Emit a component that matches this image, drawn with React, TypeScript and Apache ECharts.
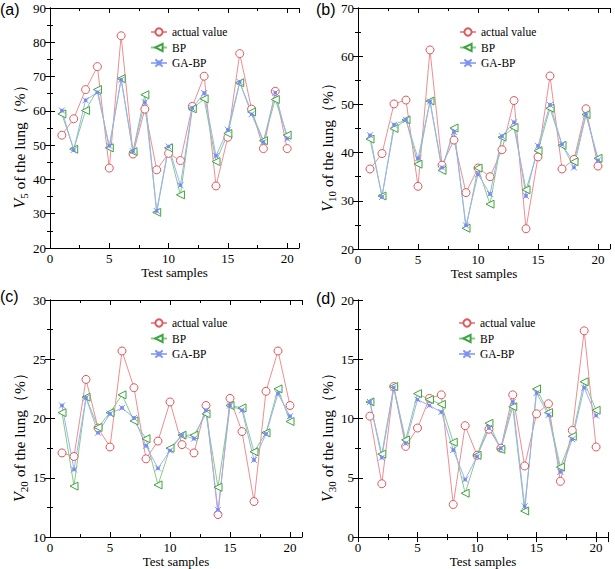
import React, { useEffect, useRef } from "react";
import * as echarts from "echarts";

const samples = [1, 2, 3, 4, 5, 6, 7, 8, 9, 10, 11, 12, 13, 14, 15, 16, 17, 18, 19, 20];
const seriesNames = ["actual value", "BP", "GA-BP"];
const panelLabels = ["(a)", "(b)", "(c)", "(d)"];
const subscripts = ["5", "10", "20", "30"];

const aActual = [52.9, 57.7, 66.2, 72.9, 43.3, 81.9, 47.4, 60.5, 42.8, 47.6, 45.5, 61.3, 70.1, 38.1, 52.3, 76.7, 60.5, 49.0, 65.7, 49.0];
const aBP = [59.1, 48.8, 60.1, 66.2, 49.2, 69.4, 48.1, 64.7, 30.4, 49.2, 35.5, 60.6, 63.5, 45.2, 53.4, 68.2, 59.7, 51.3, 63.3, 52.9];
const aGABP = [60.1, 48.6, 63.1, 65.4, 49.8, 69.1, 48.2, 62.5, 30.8, 49.6, 38.3, 60.8, 65.2, 46.9, 54.5, 68.4, 59.0, 50.9, 65.3, 51.9];

const bActual = [36.6, 39.8, 50.1, 50.9, 33.0, 61.3, 37.4, 42.6, 31.7, 36.8, 35.0, 40.6, 50.8, 24.2, 39.1, 55.9, 36.6, 38.6, 49.1, 37.2];
const bBP = [42.8, 31.0, 45.0, 46.8, 37.6, 50.7, 36.3, 45.1, 24.3, 36.8, 29.3, 43.2, 45.2, 32.3, 40.4, 49.2, 41.5, 38.1, 47.9, 38.8];
const bGABP = [43.6, 30.8, 45.8, 46.8, 38.8, 50.6, 36.9, 44.3, 24.9, 35.5, 31.4, 43.4, 46.3, 31.0, 41.4, 49.9, 41.7, 36.9, 47.9, 38.4];

const cActual = [17.1, 16.8, 23.3, 19.2, 17.6, 25.7, 22.6, 16.6, 18.1, 21.4, 17.8, 17.1, 21.1, 11.9, 21.7, 18.9, 13.0, 22.3, 25.7, 21.1];
const cBP = [20.5, 14.3, 21.8, 19.25, 20.5, 22.0, 19.8, 18.3, 14.4, 17.5, 18.6, 18.6, 20.4, 14.2, 21.1, 20.9, 17.2, 18.8, 22.5, 19.75];
const cGABP = [21.1, 15.7, 21.75, 18.8, 20.4, 20.9, 20.05, 17.7, 15.8, 17.3, 18.6, 18.3, 20.7, 12.3, 21.1, 20.7, 16.5, 18.7, 22.1, 20.2];

const dActual = [10.2, 4.5, 12.7, 7.65, 9.2, 11.7, 12.0, 2.75, 9.4, 6.9, 9.1, 7.5, 12.0, 6.0, 10.4, 11.25, 4.7, 9.0, 17.4, 7.6];
const dBP = [11.4, 7.0, 12.7, 8.2, 12.1, 11.6, 11.2, 8.0, 3.7, 6.9, 9.6, 7.4, 11.0, 2.2, 12.5, 10.5, 5.9, 8.5, 13.1, 10.7];
const dGABP = [11.4, 6.7, 12.6, 7.9, 11.6, 11.1, 10.55, 7.35, 4.85, 6.8, 9.2, 7.5, 11.4, 2.6, 12.15, 10.3, 5.5, 8.25, 12.6, 10.25];

const yMins = [20, 20, 10, 0];
const yMaxs = [90, 70, 30, 20];
const yIntervals = [10, 10, 5, 5];
const xMin = 0;
const xMax = 21;
const xInterval = 5;

const panelData = [
  [aActual, aBP, aGABP],
  [bActual, bBP, bGABP],
  [cActual, cBP, cGABP],
  [dActual, dBP, dGABP],
];

const grids = [
  { left: 50, top: 8, width: 249, height: 240 },
  { left: 358, top: 8, width: 252, height: 241 },
  { left: 50, top: 300, width: 252, height: 241 },
  { left: 358, top: 300, width: 250, height: 240 },
];
const legendPos = [
  { left: 145, top: 21 },
  { left: 454, top: 21 },
  { left: 145, top: 312 },
  { left: 453, top: 312 },
];
const labelPos = [
  { x: 0, y: 1 },
  { x: 316, y: 1 },
  { x: 0, y: 288 },
  { x: 316, y: 290 },
];

const SERIF = "'Liberation Serif', 'Times New Roman', serif";
const starPath =
  "path://M0,0L10,10M10,0L0,10M3,3L7,3L7,7L3,7Z";

const styles = [
  { line: "#EC8E92", sym: "#E0585C", symbol: "circle", size: 8, rotate: 0 },
  { line: "#86CC86", sym: "#3FA43F", symbol: "triangle", size: 8, rotate: 90 },
  { line: "#9EB0F5", sym: "#2F3EE0", symbol: starPath, size: 6, rotate: 0 },
];

export default function App() {
  const ref = useRef<HTMLDivElement>(null);
  useEffect(() => {
    if (!ref.current) return;
    const chart = echarts.init(ref.current, undefined, { renderer: "svg" });
    const xAxes: any[] = [];
    const yAxes: any[] = [];
    const series: any[] = [];
    const legends: any[] = [];
    const graphics: any[] = [];
    grids.forEach((g, i) => {
      const tickCommon = {
        axisLine: { show: true, lineStyle: { color: "#000", width: 1 } },
        axisTick: { show: true, inside: true, length: 5, lineStyle: { color: "#000" } },
        minorTick: { show: true, splitNumber: 2, length: 3, lineStyle: { color: "#000" } },
        splitLine: { show: false },
      };
      xAxes.push({
        type: "value",
        gridIndex: i,
        min: xMin,
        max: xMax,
        interval: xInterval,
        position: "bottom",
        name: "Test samples",
        nameLocation: "middle",
        nameGap: 12,
        nameTextStyle: { fontFamily: SERIF, fontSize: 13, color: "#000" },
        ...tickCommon,
        axisLabel: {
          fontFamily: SERIF,
          fontSize: 13,
          color: "#000",
          margin: 4,
          formatter: (v: number) => (v % xInterval === 0 ? String(v) : ""),
        },
      });
      xAxes.push({
        type: "value",
        gridIndex: i,
        min: xMin,
        max: xMax,
        interval: xInterval,
        position: "top",
        ...tickCommon,
        axisLabel: { show: false },
      });
      yAxes.push({
        type: "value",
        gridIndex: i,
        min: yMins[i],
        max: yMaxs[i],
        interval: yIntervals[i],
        position: "left",
        name: `{i|V}{s|${subscripts[i]}}{t| of the lung（%）}`,
        nameLocation: "middle",
        nameGap: 17,
        nameTextStyle: {
          fontFamily: SERIF,
          fontSize: 15,
          color: "#000",
          padding: [0, 30, 0, 0],
          rich: {
            i: { fontFamily: SERIF, fontStyle: "italic", fontSize: 16, color: "#000", lineHeight: 20, verticalAlign: "middle" },
            s: { fontFamily: SERIF, fontSize: 11, color: "#000", lineHeight: 20, verticalAlign: "bottom" },
            t: { fontFamily: SERIF, fontSize: 15.5, color: "#000", lineHeight: 20, verticalAlign: "middle" },
          },
        },
        ...tickCommon,
        axisLabel: { fontFamily: SERIF, fontSize: 13, color: "#000", margin: 4 },
      });
      yAxes.push({
        type: "value",
        gridIndex: i,
        min: yMins[i],
        max: yMaxs[i],
        interval: yIntervals[i],
        position: "right",
        ...tickCommon,
        axisLabel: { show: false },
      });
      panelData[i].forEach((arr, k) => {
        const st = styles[k];
        series.push({
          type: "line",
          name: seriesNames[k],
          xAxisIndex: i * 2,
          yAxisIndex: i * 2,
          data: arr.map((v, j) => [samples[j], v]),
          symbol: st.symbol,
          symbolSize: st.size,
          symbolRotate: st.rotate,
          showAllSymbol: true,
          lineStyle: { color: st.line, width: 1 },
          itemStyle:
            k === 2
              ? { color: st.sym, borderColor: "#7F92F0", borderWidth: 1 }
              : { color: "#fff", borderColor: st.sym, borderWidth: 1 },
        });
      });
      legends.push({
        ...legendPos[i],
        orient: "vertical",
        itemWidth: 16,
        itemHeight: 9,
        itemGap: 3.5,
        selectedMode: false,
        data: seriesNames,
        textStyle: { fontFamily: SERIF, fontSize: 11.5, color: "#000" },
      });
      graphics.push({
        type: "text",
        left: labelPos[i].x,
        top: labelPos[i].y,
        style: { text: panelLabels[i], fontFamily: "'Liberation Sans', Arial, sans-serif", fontSize: 16, fill: "#000" },
      });
    });
    chart.setOption({
      animation: false,
      backgroundColor: "#fff",
      grid: grids.map((g) => ({ ...g, containLabel: false })),
      xAxis: xAxes,
      yAxis: yAxes,
      series,
      legend: legends,
      graphic: graphics,
    });
    return () => chart.dispose();
  }, []);
  return (
    <div
      ref={ref}
      style={{ position: "fixed", left: 0, top: 0, width: 615, height: 569, background: "#fff" }}
    />
  );
}
